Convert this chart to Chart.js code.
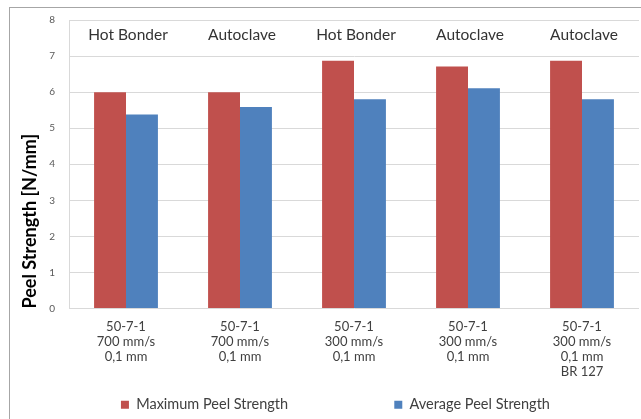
<!DOCTYPE html>
<html>
<head>
<meta charset="utf-8">
<script src="https://cdn.jsdelivr.net/npm/chart.js@4"></script>
<style>
  body { margin: 0; background: #fff; }
  #wrap { position: relative; width: 641px; height: 419px; overflow: hidden; }
  #frame { position: absolute; left: 9px; top: 7px; width: 700px; height: 500px; border: 1px solid #a6a6a6; }
  canvas { position: absolute; left: 0; top: 0; }
</style>
</head>
<body>
<div id="wrap">
  <div id="frame"></div>
  <canvas id="grafico"></canvas>
</div>
<script>
const categorias = [
  ["50-7-1", "700 mm/s", "0,1 mm"],
  ["50-7-1", "700 mm/s", "0,1 mm"],
  ["50-7-1", "300 mm/s", "0,1 mm"],
  ["50-7-1", "300 mm/s", "0,1 mm"],
  ["50-7-1", "300 mm/s", "0,1 mm", "BR 127"]
];
const processos = ["Hot Bonder", "Autoclave", "Hot Bonder", "Autoclave", "Autoclave"];
const maxPeel = [6.0, 6.0, 6.87, 6.71, 6.87];
const avgPeel = [5.38, 5.59, 5.8, 6.11, 5.8];

const fonte = "Lato, 'Open Sans', sans-serif";

// texto do processo escrito dentro do grafico, em cima de cada grupo
const rotulosTopo = {
  id: "rotulosTopo",
  afterDatasetsDraw(chart) {
    const ctx = chart.ctx;
    const x = chart.scales.x;
    ctx.save();
    ctx.font = `15.5px ${fonte}`;
    ctx.fillStyle = "#333333";
    ctx.textAlign = "center";
    ctx.textBaseline = "middle";
    processos.forEach((txt, i) => {
      ctx.fillText(txt, x.getPixelForValue(i) + 2, chart.chartArea.top + 15);
    });
    ctx.restore();
  }
};

const grafico = new Chart(document.getElementById("grafico"), {
  type: "bar",
  data: {
    labels: categorias,
    datasets: [
      {
        label: "Maximum Peel Strength",
        data: maxPeel,
        backgroundColor: "#c0504d",
        barPercentage: 1,
        categoryPercentage: 0.56
      },
      {
        label: "Average Peel Strength",
        data: avgPeel,
        backgroundColor: "#4f81bd",
        barPercentage: 1,
        categoryPercentage: 0.56
      }
    ]
  },
  options: {
    responsive: true,
    maintainAspectRatio: false,
    animation: false,
    layout: { padding: { left: 9, right: 2, top: 18, bottom: -3 } },
    plugins: {
      tooltip: { enabled: false },
      legend: {
        position: "bottom",
        fullSize: false,
        labels: {
          font: { family: fonte, size: 14.5 },
          color: "#404040",
          boxWidth: 8,
          boxHeight: 8,
          padding: 6,
          generateLabels: (chart) => {
            const itens = Chart.defaults.plugins.legend.labels.generateLabels(chart);
            itens[0].text += " ".repeat(27);
            itens[1].text += " ".repeat(10);
            itens.forEach(it => { it.lineWidth = 0; });
            return itens;
          }
        }
      }
    },
    scales: {
      x: {
        grid: { display: false, drawTicks: false },
        border: { display: false },
        ticks: {
          color: "#404040",
          font: { family: fonte, size: 13, lineHeight: "15px" },
          padding: 11,
          maxRotation: 0,
          autoSkip: false
        },
        afterFit: (escala) => { escala.height = 83; }
      },
      y: {
        min: 0,
        max: 8,
        ticks: {
          stepSize: 1,
          color: "#595959",
          font: { family: fonte, size: 10 },
          padding: 14
        },
        grid: { color: "#d9d9d9", drawTicks: false },
        border: { color: "#d9d9d9" },
        title: {
          display: true,
          text: "Peel Strength [N/mm]",
          align: "start",
          color: "#000000",
          font: { family: fonte, size: 18, weight: "bold" },
          padding: { top: 10, bottom: 0 }
        },
        afterFit: (escala) => { escala.width = 60; }
      }
    }
  },
  plugins: [rotulosTopo]
});
</script>
</body>
</html>
